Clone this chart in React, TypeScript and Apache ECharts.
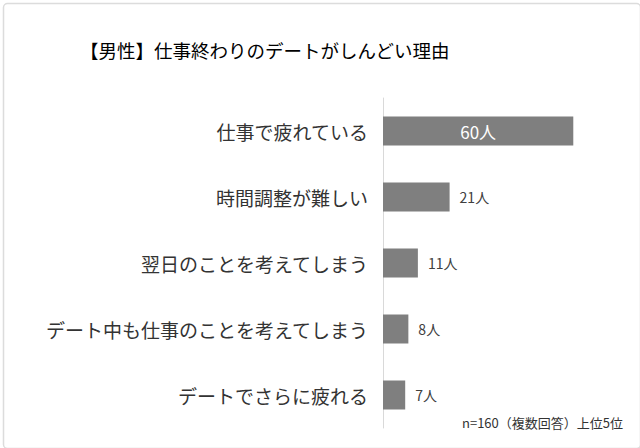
import React, { useEffect, useRef } from "react";
import * as echarts from "echarts";

const categories = [
  "仕事で疲れている",
  "時間調整が難しい",
  "翌日のことを考えてしまう",
  "デート中も仕事のことを考えてしまう",
  "デートでさらに疲れる",
];
const values = [60, 21, 11, 8, 7];
const unit = "人";
const titleText = "【男性】仕事終わりのデートがしんどい理由";
const noteText = "n=160（複数回答）上位5位";

const FONT = "'Noto Sans CJK JP', 'Noto Sans', sans-serif";

export default function App() {
  const ref = useRef<HTMLDivElement>(null);
  useEffect(() => {
    if (!ref.current) return;
    const chart = echarts.init(ref.current, undefined, { renderer: "svg" });
    const data = values.map((v, i) => ({
      value: v,
      label:
        i === 0
          ? {
              show: true,
              position: "inside",
              color: "#ffffff",
              fontSize: 17,
              formatter: "{c}" + unit,
            }
          : {
              show: true,
              position: "right",
              distance: 10,
              color: "#404040",
              fontSize: 14,
              formatter: "{c}" + unit,
            },
    }));
    chart.setOption({
      animation: false,
      backgroundColor: "#ffffff",
      textStyle: { fontFamily: FONT },
      grid: { left: 383, right: 35, top: 98, height: 330 },
      xAxis: {
        type: "value",
        min: 0,
        max: 70,
        show: false,
      },
      yAxis: {
        type: "category",
        data: categories,
        inverse: true,
        axisLine: { show: true, lineStyle: { color: "#d9d9d9", width: 1 } },
        axisTick: { show: false },
        axisLabel: {
          margin: 15,
          fontSize: 19,
          color: "#333333",
          fontFamily: FONT,
        },
      },
      series: [
        {
          type: "bar",
          data,
          barWidth: 29,
          itemStyle: { color: "#7f7f7f" },
          label: { fontFamily: FONT },
        },
      ],
      graphic: [
        {
          type: "rect",
          left: 1,
          top: 1,
          shape: { width: 637, height: 445, r: 4 },
          style: { fill: "none", stroke: "#dcdcdc", lineWidth: 1.5 },
          silent: true,
          z: -1,
        },
        {
          type: "text",
          left: 80,
          top: 41,
          style: {
            text: titleText,
            fontSize: 18.5,
            fill: "#000000",
            fontFamily: FONT,
          },
        },
        {
          type: "text",
          right: 17,
          top: 416,
          style: {
            text: noteText,
            fontSize: 13,
            fill: "#333333",
            fontFamily: FONT,
          },
        },
      ],
    });
    return () => chart.dispose();
  }, []);
  return (
    <div
      ref={ref}
      style={{ position: "fixed", left: 0, top: 0, width: 640, height: 448 }}
    />
  );
}
